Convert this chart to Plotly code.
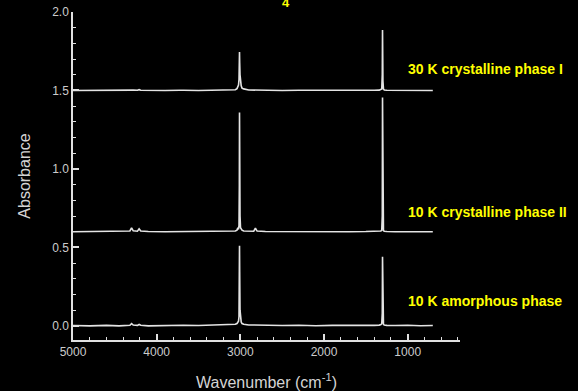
import plotly.graph_objects as go

# Wavenumber grid (cm^-1)
wavenumber = [5000, 4800, 4600, 4450, 4320, 4300, 4280, 4230, 4210, 4190, 4100, 3900,
              3720, 3700, 3680, 3500, 3300, 3150, 3060, 3040, 3030, 3022, 3016, 3012,
              3010, 3008, 3004, 2998, 2990, 2980, 2960, 2900, 2840, 2820, 2800, 2700,
              2500, 2300, 2100, 1900, 1700, 1500, 1400, 1340, 1320, 1310, 1304, 1301,
              1299, 1296, 1290, 1280, 1250, 1150, 1000, 850, 700]

# 10 K amorphous phase (plotted, offset 0.0)
amorphous = [0.002, 0.000, 0.003, 0.000, 0.004, 0.014, 0.005, 0.003, 0.009, 0.004, 0.000, 0.003,
             0.004, 0.008, 0.004, 0.002, 0.004, 0.006, 0.010, 0.015, 0.020, 0.030, 0.060, 0.200,
             0.510, 0.350, 0.100, 0.040, 0.025, 0.015, 0.010, 0.006, 0.005, 0.008, 0.005, 0.003,
             0.002, 0.004, 0.001, 0.003, 0.002, 0.004, 0.003, 0.005, 0.008, 0.015, 0.080, 0.440,
             0.300, 0.050, 0.010, 0.005, 0.003, 0.002, 0.004, 0.001, 0.002]

# 10 K crystalline phase II (plotted, offset ~0.6)
phase_ii = [0.600, 0.601, 0.600, 0.602, 0.605, 0.625, 0.606, 0.603, 0.618, 0.604, 0.601, 0.600,
            0.601, 0.603, 0.601, 0.600, 0.601, 0.602, 0.605, 0.610, 0.625, 0.615, 0.640, 0.900,
            1.360, 1.000, 0.700, 0.625, 0.620, 0.610, 0.605, 0.602, 0.603, 0.622, 0.604, 0.601,
            0.600, 0.601, 0.600, 0.601, 0.600, 0.601, 0.601, 0.602, 0.605, 0.610, 0.700, 1.455,
            1.200, 0.680, 0.607, 0.603, 0.601, 0.600, 0.601, 0.600, 0.600]

# 30 K crystalline phase I (plotted, offset ~1.5)
phase_i = [1.500, 1.501, 1.500, 1.501, 1.502, 1.506, 1.502, 1.501, 1.505, 1.501, 1.500, 1.500,
           1.501, 1.502, 1.501, 1.500, 1.501, 1.502, 1.505, 1.512, 1.520, 1.535, 1.570, 1.660,
           1.745, 1.680, 1.600, 1.550, 1.530, 1.515, 1.510, 1.503, 1.502, 1.504, 1.502, 1.501,
           1.500, 1.501, 1.500, 1.501, 1.500, 1.501, 1.501, 1.502, 1.505, 1.510, 1.600, 1.886,
           1.750, 1.560, 1.510, 1.503, 1.501, 1.500, 1.501, 1.500, 1.500]

series_names = ["30 K crystalline phase I", "10 K crystalline phase II", "10 K amorphous phase"]
series_values = [phase_i, phase_ii, amorphous]
label_y = [1.637, 0.727, 0.16]

x_ticks = [5000, 4000, 3000, 2000, 1000]
y_ticks = [0.0, 0.5, 1.0, 1.5, 2.0]

fig = go.Figure()
for name, vals in zip(series_names, series_values):
    fig.add_trace(go.Scatter(x=wavenumber, y=vals, mode="lines", name=name,
                             line=dict(color="#e4e4e4", width=1.6), showlegend=False,
                             hoverinfo="skip"))

for name, ly in zip(series_names, label_y):
    fig.add_annotation(x=1.0, xref="paper", xanchor="left", xshift=-54,
                       y=ly, yref="y", yanchor="middle", text="<b>%s</b>" % name,
                       showarrow=False,
                       font=dict(family="Liberation Sans, Arial", size=14, color="#ffff00"))

fig.add_annotation(x=0.55, xref="paper", y=1.0, yref="paper", yanchor="bottom", yshift=0,
                   text="<b>4</b>", showarrow=False,
                   font=dict(family="Liberation Sans, Arial", size=13, color="#ffff00"))

axis_font = dict(family="Liberation Sans, Arial", size=12, color="#cccccc")
title_font = dict(family="Liberation Sans, Arial", size=16, color="#d4d4d4")

fig.update_layout(
    width=578, height=391,
    paper_bgcolor="black", plot_bgcolor="black",
    margin=dict(l=73, r=118, t=12, b=51),
    xaxis=dict(range=[5000, 375], tickvals=x_ticks, ticktext=[str(v) for v in x_ticks],
               automargin=False,
               showgrid=False, zeroline=False, showline=True, linecolor="#e0e0e0", linewidth=1.5,
               ticks="inside", ticklen=6, tickwidth=1.5, tickcolor="#e0e0e0",
               tickfont=axis_font,
               minor=dict(dtick=200, tick0=0, ticks="inside", ticklen=3, tickcolor="#e0e0e0",
                          tickwidth=1.2, showgrid=False),
               title=dict(text="Wavenumber (cm<sup>-1</sup>)", font=title_font, standoff=20)),
    yaxis=dict(range=[-0.09, 2.0], tickvals=y_ticks, ticktext=["%.1f" % v for v in y_ticks],
               automargin=False,
               showgrid=False, zeroline=False, showline=True, linecolor="#e0e0e0", linewidth=1.5,
               ticks="inside", ticklen=6, tickwidth=1.5, tickcolor="#e0e0e0",
               tickfont=axis_font,
               minor=dict(dtick=0.1, tick0=0, ticks="inside", ticklen=3, tickcolor="#e0e0e0",
                          tickwidth=1.2, showgrid=False),
               title=dict(text="Absorbance", font=title_font, standoff=18)),
)

fig.write_html("out.html")
